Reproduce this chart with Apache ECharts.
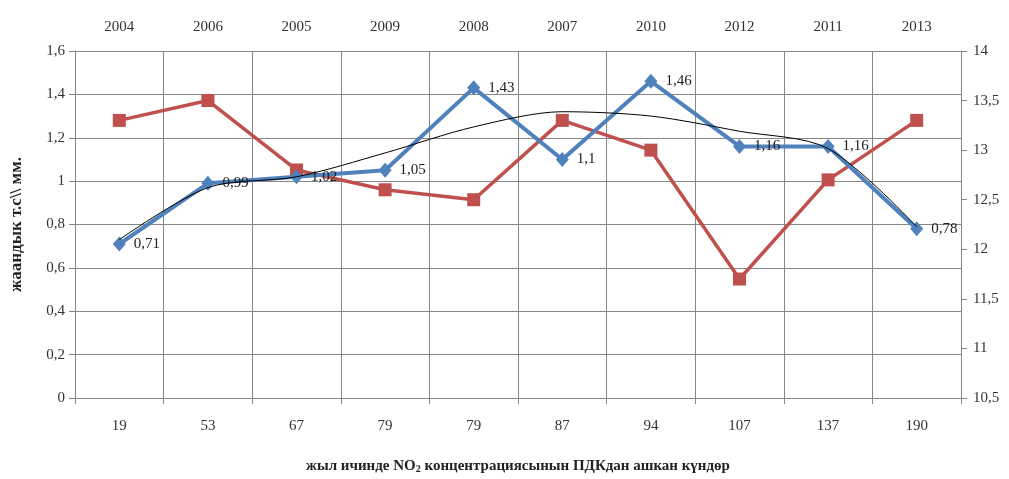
<!DOCTYPE html>
<html>
<head>
<meta charset="utf-8">
<script src="https://cdn.jsdelivr.net/npm/echarts@6/dist/echarts.min.js"></script>
<style>
  html, body { margin: 0; padding: 0; background: #fff; }
  #chart { width: 1009px; height: 479px; }
</style>
</head>
<body>
<div id="chart"></div>
<script>
// Days per year with NO2 above the limit (bottom axis) and the matching year (top axis)
const daysLabels = ['19', '53', '67', '79', '79', '87', '94', '107', '137', '190'];
const yearLabels = ['2004', '2006', '2005', '2009', '2008', '2007', '2010', '2012', '2011', '2013'];

// Left axis series (blue) and right axis series (red)
const blueValues = [0.71, 0.99, 1.02, 1.05, 1.43, 1.1, 1.46, 1.16, 1.16, 0.78];
const redValues = [13.3, 13.5, 12.8, 12.6, 12.5, 13.3, 13.0, 11.7, 12.7, 13.3];
// Polynomial trend of the blue series
const trendValues = [0.73, 0.97, 1.02, 1.13, 1.25, 1.32, 1.30, 1.23, 1.15, 0.79];

const leftTicks = { min: 0, max: 1.6, interval: 0.2 };
const rightTicks = { min: 10.5, max: 14, interval: 0.5 };

const FONT = 'Liberation Serif';
const comma = v => String(v).replace('.', ',');

const chart = echarts.init(document.getElementById('chart'), null, { renderer: 'canvas' });

const catAxisBase = {
  type: 'category',
  boundaryGap: true,
  axisLine: { show: true, lineStyle: { color: '#868686', width: 1 } },
  axisTick: { show: true, length: 6, lineStyle: { color: '#868686' } },
  axisLabel: { fontFamily: FONT, fontSize: 15, color: '#333' }
};

chart.setOption({
  animation: false,
  backgroundColor: '#fff',
  grid: { left: 69, right: 48, top: 51, bottom: 74, containLabel: false },
  xAxis: [
    Object.assign({}, catAxisBase, {
      position: 'bottom',
      data: daysLabels,
      splitLine: { show: true, lineStyle: { color: '#868686', width: 1 } },
      axisLabel: Object.assign({}, catAxisBase.axisLabel, { margin: 21 }),
      name: 'жыл ичинде NO{sub|2} концентрациясынын ПДКдан ашкан күндөр',
      nameLocation: 'middle',
      nameGap: 60,
      nameTextStyle: {
        fontFamily: FONT, fontSize: 15, fontWeight: 'bold', color: '#222',
        rich: { sub: { fontFamily: FONT, fontSize: 10, fontWeight: 'bold', color: '#222', verticalAlign: 'bottom', padding: [6, 0, 0, 0] } }
      }
    }),
    Object.assign({}, catAxisBase, {
      position: 'top',
      data: yearLabels,
      axisLine: { show: false },
      axisTick: { show: false },
      axisLabel: Object.assign({}, catAxisBase.axisLabel, { margin: 16 })
    })
  ],
  yAxis: [
    {
      type: 'value',
      position: 'left',
      min: leftTicks.min, max: leftTicks.max, interval: leftTicks.interval,
      axisLine: { show: true, lineStyle: { color: '#868686' } },
      axisTick: { show: true, length: 6, lineStyle: { color: '#868686' } },
      splitLine: { show: true, lineStyle: { color: '#868686', width: 1 } },
      axisLabel: { fontFamily: FONT, fontSize: 15, color: '#333', margin: 10, formatter: comma },
      name: 'жаандык т.с\\\\ мм.',
      nameLocation: 'middle',
      nameGap: 50,
      nameRotate: 90,
      nameTextStyle: { fontFamily: FONT, fontSize: 17, fontWeight: 'bold', color: '#222' }
    },
    {
      type: 'value',
      position: 'right',
      min: rightTicks.min, max: rightTicks.max, interval: rightTicks.interval,
      axisLine: { show: true, lineStyle: { color: '#868686' } },
      axisTick: { show: true, length: 6, lineStyle: { color: '#868686' } },
      splitLine: { show: false },
      axisLabel: { fontFamily: FONT, fontSize: 15, color: '#333', margin: 12, formatter: comma }
    }
  ],
  series: [
    {
      name: 'red',
      type: 'line',
      xAxisIndex: 0,
      yAxisIndex: 1,
      data: redValues,
      symbol: 'rect',
      symbolSize: 13,
      lineStyle: { color: '#C0504D', width: 3.5 },
      itemStyle: { color: '#C0504D' },
      z: 2
    },
    {
      name: 'blue',
      type: 'line',
      xAxisIndex: 0,
      yAxisIndex: 0,
      data: blueValues,
      symbol: 'diamond',
      symbolSize: [13, 15],
      lineStyle: { color: '#4F81BD', width: 4 },
      itemStyle: { color: '#4F81BD' },
      label: {
        show: true,
        position: 'right',
        distance: 8,
        fontFamily: FONT,
        fontSize: 15,
        color: '#222',
        formatter: p => comma(p.value)
      },
      z: 3
    },
    {
      name: 'trend',
      type: 'line',
      xAxisIndex: 0,
      yAxisIndex: 0,
      data: trendValues,
      smooth: 0.3,
      symbol: 'none',
      lineStyle: { color: '#000', width: 1 },
      z: 4,
      silent: true
    }
  ]
});
</script>
</body>
</html>
